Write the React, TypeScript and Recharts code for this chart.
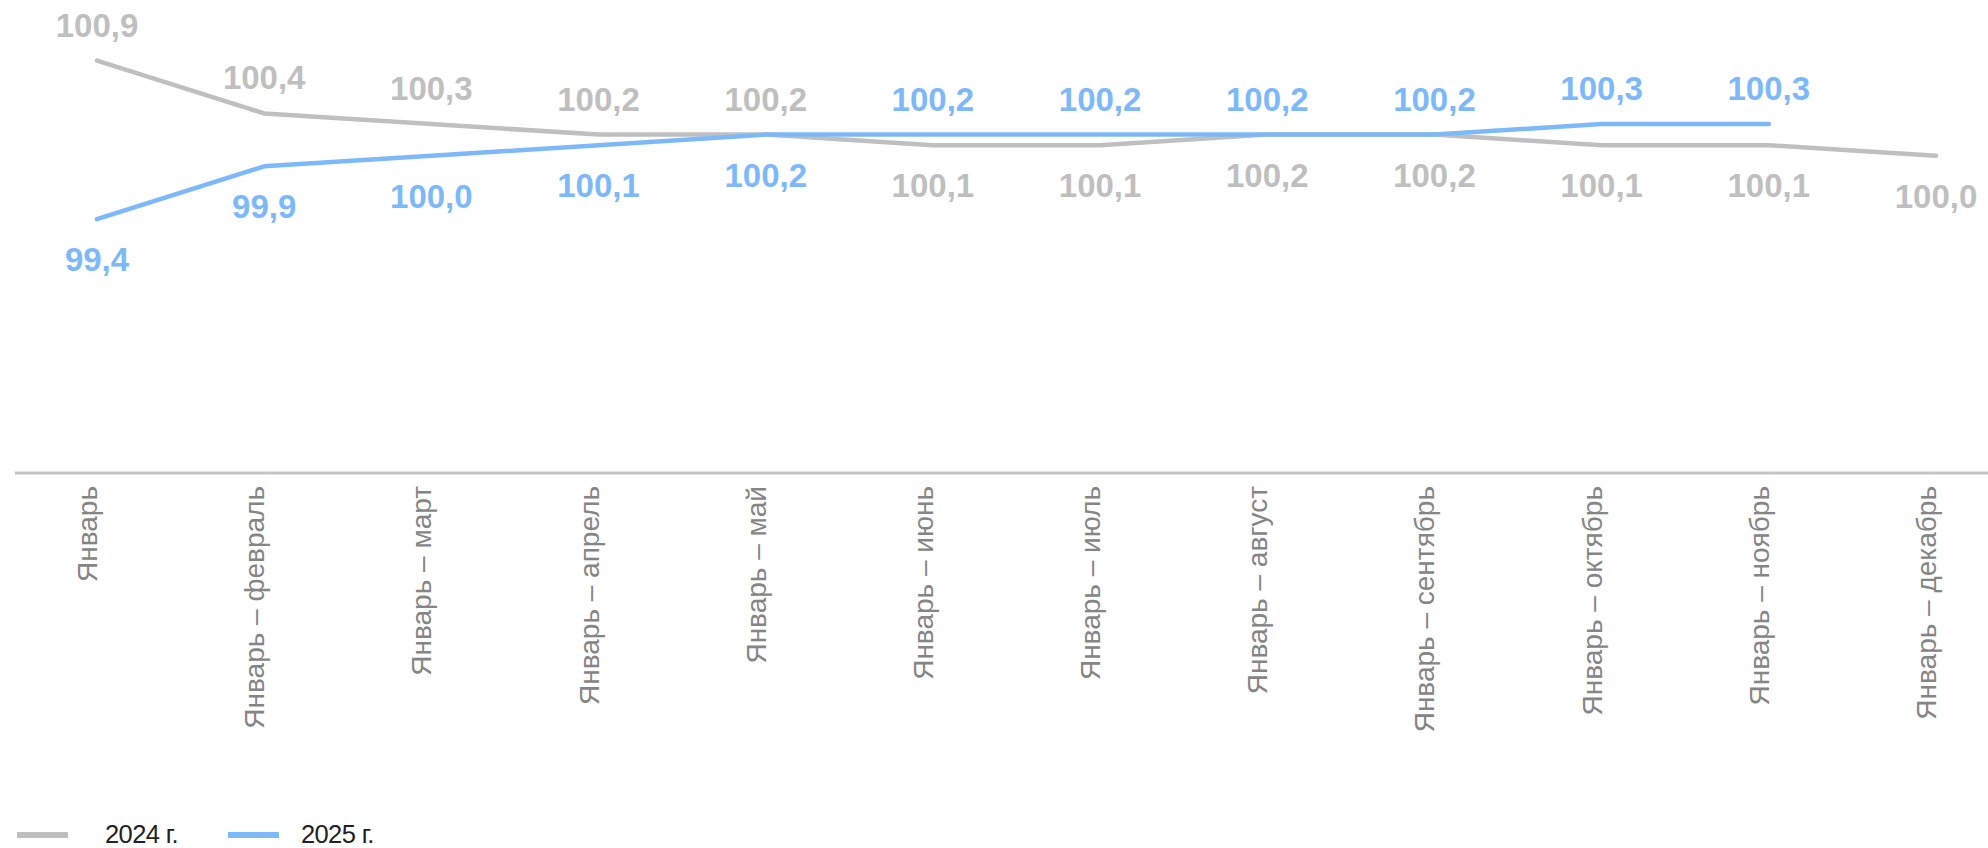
import React from 'react';
import { LineChart, Line, XAxis, YAxis, Legend } from 'recharts';

const CATEGORIES = [
  'Январь',
  'Январь – февраль',
  'Январь – март',
  'Январь – апрель',
  'Январь – май',
  'Январь – июнь',
  'Январь – июль',
  'Январь – август',
  'Январь – сентябрь',
  'Январь – октябрь',
  'Январь – ноябрь',
  'Январь – декабрь',
];
const VALUES_2024 = [100.9, 100.4, 100.3, 100.2, 100.2, 100.1, 100.1, 100.2, 100.2, 100.1, 100.1, 100.0];
const VALUES_2025 = [99.4, 99.9, 100.0, 100.1, 100.2, 100.2, 100.2, 100.2, 100.2, 100.3, 100.3, null];
const SERIES_NAMES = ['2024 г.', '2025 г.'];
const Y_DOMAIN = [97, 101];
const LABEL_SWITCH_INDEX = 5; // from this category on, 2025 labels go above the line

const GRAY = '#BFBFBF';
const BLUE = '#7DB9F9';
const FONT = '"Liberation Sans", Arial, sans-serif';

const data = CATEGORIES.map((c, i) => ({
  category: c,
  y2024: VALUES_2024[i],
  y2025: VALUES_2025[i],
}));

const fmt = (v: number) => v.toFixed(1).replace('.', ',');

const AxisTick = (props: any) => {
  const { x, y, payload } = props;
  return (
    <text
      x={x}
      y={y}
      transform={`rotate(-90, ${x}, ${y})`}
      textAnchor="end"
      fill="#858585"
      fontSize={28}
      fontFamily={FONT}
    >
      {payload.value}
    </text>
  );
};

const makeLabel = (color: string, aboveFirst: boolean) => (props: any) => {
  const { value, index } = props;
  if (value === null || value === undefined) return null;
  const x = props.viewBox?.x ?? props.x;
  const y = props.viewBox?.y ?? props.y;
  if (x == null || y == null) return null;
  const firstPart = index < LABEL_SWITCH_INDEX;
  const above = firstPart ? aboveFirst : !aboveFirst;
  const ty = above ? y - 24 : y + 52;
  return (
    <text
      key={`lbl-${index}`}
      x={x}
      y={ty}
      textAnchor="middle"
      fill={color}
      fontSize={33}
      fontWeight="bold"
      fontFamily={FONT}
    >
      {fmt(Number(value))}
    </text>
  );
};

const LegendContent = (props: any) => {
  const payload = props.payload || [];
  return (
    <div style={{ display: 'flex', alignItems: 'center', fontFamily: FONT }}>
      {payload.map((p: any, i: number) => (
        <div key={i} style={{ display: 'flex', alignItems: 'center', marginRight: 50 }}>
          <svg width={51} height={8} style={{ display: 'block' }}>
            <line x1={0} y1={4} x2={51} y2={4} stroke={p.color} strokeWidth={6} />
          </svg>
          <span style={{ marginLeft: i === 0 ? 37 : 22, fontSize: 25.5, color: '#222', letterSpacing: -0.6 }}>
            {p.value}
          </span>
        </div>
      ))}
    </div>
  );
};

export default function App() {
  return (
    <div style={{ position: 'absolute', left: 0, top: 0, width: 1988, height: 848, background: '#fff' }}>
      <LineChart
        width={1988}
        height={848}
        data={data}
        margin={{ top: 50, right: 0, left: 15, bottom: 75 }}
      >
        <XAxis
          dataKey="category"
          interval={0}
          height={300}
          tickLine={false}
          tickSize={0}
          tickMargin={13}
          axisLine={{ stroke: '#C4C4C4', strokeWidth: 3 }}
          padding={{ left: 82, right: 52 }}
          tick={<AxisTick />}
        />
        <YAxis hide domain={Y_DOMAIN} />
        <Legend
          layout="horizontal"
          verticalAlign="middle"
          align="center"
          wrapperStyle={{ top: 820, left: 17, width: 600, height: 30 }}
          content={<LegendContent />}
        />
        <Line
          type="linear"
          dataKey="y2024"
          name={SERIES_NAMES[0]}
          stroke={GRAY}
          strokeWidth={4.5}
          strokeLinecap="round"
          strokeLinejoin="round"
          dot={false}
          activeDot={false}
          isAnimationActive={false}
          label={makeLabel(GRAY, true)}
        />
        <Line
          type="linear"
          dataKey="y2025"
          name={SERIES_NAMES[1]}
          stroke={BLUE}
          strokeWidth={4.5}
          strokeLinecap="round"
          strokeLinejoin="round"
          dot={false}
          activeDot={false}
          isAnimationActive={false}
          label={makeLabel(BLUE, false)}
        />
      </LineChart>
    </div>
  );
}
